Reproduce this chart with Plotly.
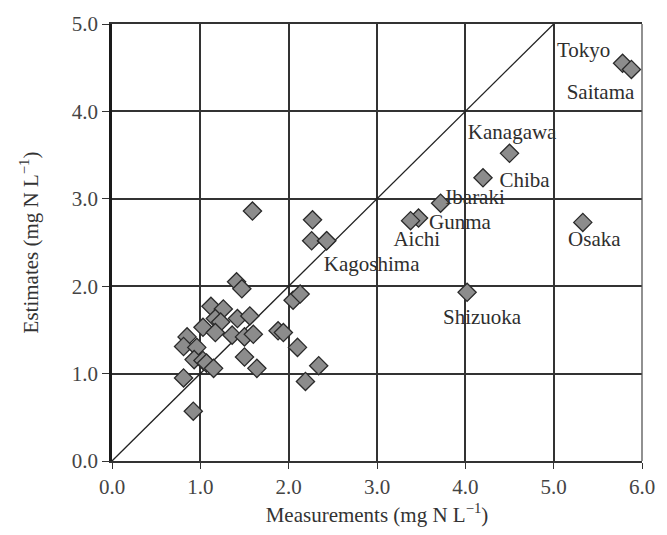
import plotly.graph_objects as go

# Unlabelled prefectures (measurements, estimates)
meas = [1.59, 2.27, 2.26, 2.43, 1.41, 1.47, 2.05, 2.13, 1.12, 1.26, 1.17, 1.23, 1.42, 1.56,
        1.03, 1.17, 1.36, 1.50, 1.60, 1.88, 1.94, 0.85, 0.81, 0.96, 0.93, 1.03, 1.07, 1.15,
        1.50, 1.64, 2.10, 2.34, 2.19, 0.81, 0.92]
est = [2.86, 2.76, 2.52, 2.52, 2.05, 1.97, 1.84, 1.91, 1.77, 1.74, 1.63, 1.59, 1.63, 1.66,
       1.53, 1.47, 1.44, 1.42, 1.45, 1.49, 1.47, 1.42, 1.31, 1.30, 1.16, 1.15, 1.12, 1.06,
       1.19, 1.06, 1.30, 1.09, 0.91, 0.95, 0.57]

# Labelled prefectures
named = ["Tokyo", "Saitama", "Kanagawa", "Chiba", "Ibaraki", "Gunma", "Aichi", "Kagoshima", "Osaka", "Shizuoka"]
named_meas = [5.78, 5.88, 4.50, 4.20, 3.72, 3.47, 3.38, 2.43, 5.33, 4.02]
named_est = [4.55, 4.48, 3.52, 3.24, 2.95, 2.78, 2.75, 2.52, 2.73, 1.93]
label_x = [5.34, 5.53, 4.53, 4.67, 4.11, 3.94, 3.45, 2.94, 5.46, 4.19]
label_y = [4.68, 4.20, 3.74, 3.20, 3.00, 2.71, 2.52, 2.23, 2.52, 1.63]

ticks = [0, 1, 2, 3, 4, 5, 6]
tick_text = ["0.0", "1.0", "2.0", "3.0", "4.0", "5.0", "6.0"]
yticks = [0, 1, 2, 3, 4, 5]
ytick_text = ["0.0", "1.0", "2.0", "3.0", "4.0", "5.0"]
line_x = [0, 5]
line_y = [0, 5]

FONT = "Liberation Serif"
DARK = "#333333"

fig = go.Figure()
fig.add_trace(go.Scatter(x=line_x, y=line_y, mode="lines",
                         line=dict(color="#222222", width=1.3), hoverinfo="skip"))
marker = dict(symbol="diamond", size=14, color="#8c8c8c",
              line=dict(color="#2a2a2a", width=1.3))
fig.add_trace(go.Scatter(x=meas, y=est, mode="markers", marker=marker))
fig.add_trace(go.Scatter(x=named_meas, y=named_est, mode="markers", marker=marker))
fig.add_trace(go.Scatter(x=label_x, y=label_y, mode="text", text=named,
                         textfont=dict(family=FONT, size=21, color="#2e2e2e")))

fig.add_shape(type="line", xref="paper", yref="paper", x0=1, x1=1, y0=0, y1=1,
              line=dict(color="#555555", width=1.3))

fig.update_layout(
    width=667, height=535,
    margin=dict(l=112, r=17, t=22, b=74),
    paper_bgcolor="white", plot_bgcolor="white",
    showlegend=False,
    font=dict(family=FONT, size=21, color="#444444"),
)
fig.update_xaxes(range=[0, 6], tickvals=ticks, ticktext=tick_text,
                 showgrid=True, gridcolor=DARK, gridwidth=1.5,
                 showline=True, linecolor=DARK, linewidth=1.8, mirror=True,
                 ticks="outside", ticklen=6, tickcolor=DARK, tickwidth=1.3,
                 zeroline=False,
                 tickfont=dict(family=FONT, size=21, color="#444444"),
                 title=dict(text="Measurements (mg N L<sup>\u22121</sup>)",
                            font=dict(family=FONT, size=21, color="#333333"), standoff=9))
fig.update_yaxes(range=[0, 5], tickvals=yticks, ticktext=ytick_text,
                 showgrid=True, gridcolor=DARK, gridwidth=1.5,
                 showline=True, linecolor="#1a1a1a", linewidth=2.8,
                 ticks="outside", ticklen=7, tickcolor=DARK, tickwidth=1.3,
                 zeroline=False,
                 tickfont=dict(family=FONT, size=21, color="#444444"),
                 title=dict(text="Estimates (mg N L<sup>\u22121</sup>)",
                            font=dict(family=FONT, size=21, color="#333333"), standoff=28))

fig.write_html("out.html")
